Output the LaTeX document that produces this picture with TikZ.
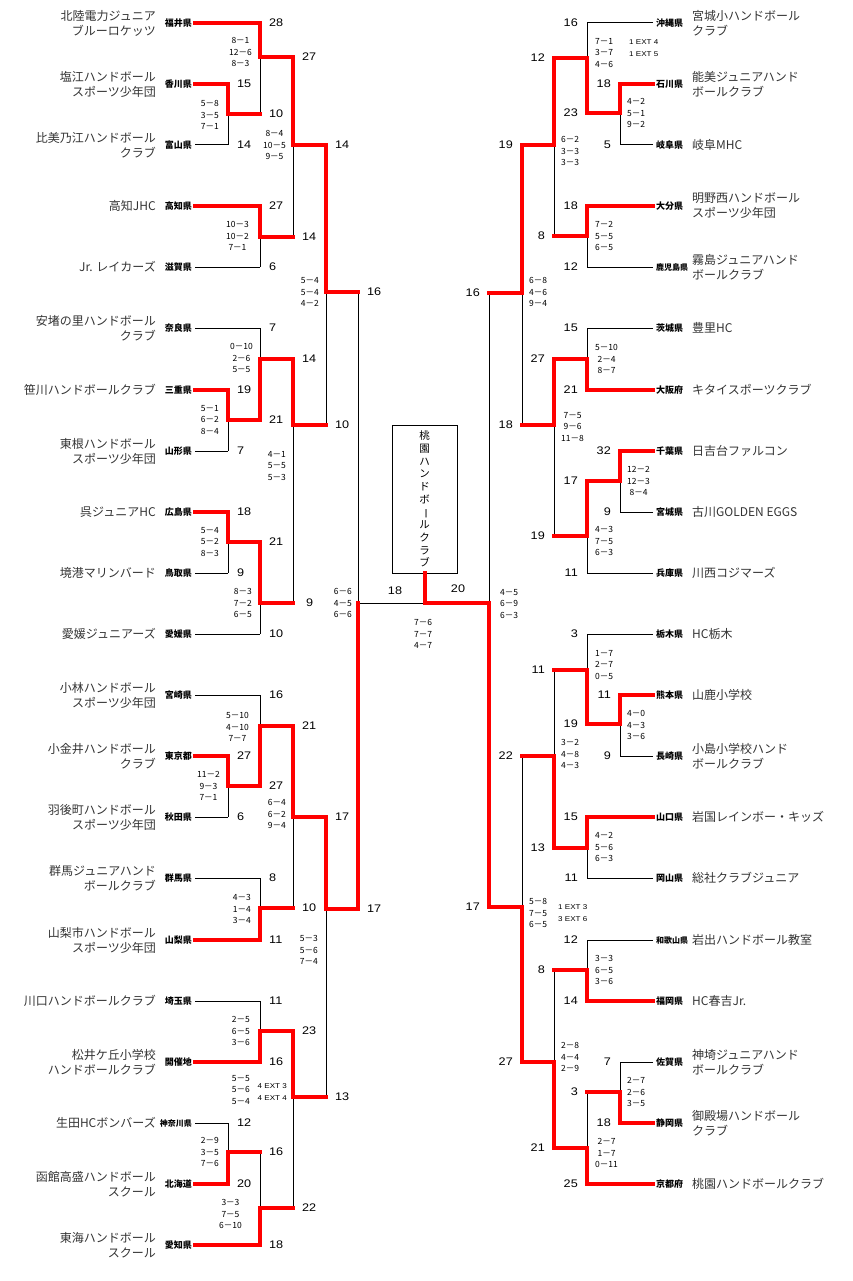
\documentclass[tikz,border=0pt]{standalone}
\usepackage{fontspec}
\setmainfont{Liberation Sans}
\newfontfamily\jp{Noto Sans CJK JP}
\newfontfamily\num[FakeStretch=1.15]{Liberation Sans}
\begin{document}
\begin{tikzpicture}[x=1pt, y=-1pt,
  lose/.style={draw=black, line width=1pt},
  win/.style={draw=red, line width=4pt, line cap=rect},
  pref/.style={font=\jp\bfseries\fontsize{9}{9}\selectfont, inner xsep=3pt, inner ysep=0pt},
  pref4/.style={pref, font=\jp\bfseries\fontsize{8}{8}\selectfont},
  team/.style={font=\jp\fontsize{12}{15}\selectfont, text=black!80, inner sep=0pt},
  sc/.style={font=\num\fontsize{11}{11}\selectfont, inner sep=0pt},
  gm/.style={font=\jp\fontsize{8.5}{11.2}\selectfont, align=center, inner sep=0pt},
  ext/.style={font=\num\fontsize{7}{11.5}\selectfont, align=left, inner sep=0pt}]
\useasboundingbox (0,0) rectangle (852,1281);

% columns
\coordinate (L1) at (228,0); \coordinate (L2) at (260,0); \coordinate (L3) at (293,0);
\coordinate (L4) at (326,0); \coordinate (L5) at (358,0);
\coordinate (R1) at (620,0); \coordinate (R2) at (587,0); \coordinate (R3) at (554,0);
\coordinate (R4) at (522,0); \coordinate (R5) at (489,0);

% left teams
\node[pref, anchor=east] (p0) at (195,23) {福井県};
\node[pref, anchor=east] (p1) at (195,84) {香川県};
\node[pref, anchor=east] (p2) at (195,145) {富山県};
\node[pref, anchor=east] (p3) at (195,206) {高知県};
\node[pref, anchor=east] (p4) at (195,267) {滋賀県};
\node[pref, anchor=east] (p5) at (195,328) {奈良県};
\node[pref, anchor=east] (p6) at (195,390) {三重県};
\node[pref, anchor=east] (p7) at (195,451) {山形県};
\node[pref, anchor=east] (p8) at (195,512) {広島県};
\node[pref, anchor=east] (p9) at (195,573) {鳥取県};
\node[pref, anchor=east] (p10) at (195,634) {愛媛県};
\node[pref, anchor=east] (p11) at (195,695) {宮崎県};
\node[pref, anchor=east] (p12) at (195,756) {東京都};
\node[pref, anchor=east] (p13) at (195,817) {秋田県};
\node[pref, anchor=east] (p14) at (195,878) {群馬県};
\node[pref, anchor=east] (p15) at (195,940) {山梨県};
\node[pref, anchor=east] (p16) at (195,1001) {埼玉県};
\node[pref, anchor=east] (p17) at (195,1062) {開催地};
\node[pref4, anchor=east] (p18) at (195,1123) {神奈川県};
\node[pref, anchor=east] (p19) at (195,1184) {北海道};
\node[pref, anchor=east] (p20) at (195,1245) {愛知県};

\node[team, anchor=east, align=right] (t0) at (156,23) {北陸電力ジュニア\\ブルーロケッツ};
\node[team, anchor=east, align=right] (t1) at (156,84) {塩江ハンドボール\\スポーツ少年団};
\node[team, anchor=east, align=right] (t2) at (156,145) {比美乃江ハンドボール\\クラブ};
\node[team, anchor=east, align=right] (t3) at (156,206) {高知JHC};
\node[team, anchor=east, align=right] (t4) at (156,267) {Jr. レイカーズ};
\node[team, anchor=east, align=right] (t5) at (156,328) {安堵の里ハンドボール\\クラブ};
\node[team, anchor=east, align=right] (t6) at (156,390) {笹川ハンドボールクラブ};
\node[team, anchor=east, align=right] (t7) at (156,451) {東根ハンドボール\\スポーツ少年団};
\node[team, anchor=east, align=right] (t8) at (156,512) {呉ジュニアHC};
\node[team, anchor=east, align=right] (t9) at (156,573) {境港マリンバード};
\node[team, anchor=east, align=right] (t10) at (156,634) {愛媛ジュニアーズ};
\node[team, anchor=east, align=right] (t11) at (156,695) {小林ハンドボール\\スポーツ少年団};
\node[team, anchor=east, align=right] (t12) at (156,756) {小金井ハンドボール\\クラブ};
\node[team, anchor=east, align=right] (t13) at (156,817) {羽後町ハンドボール\\スポーツ少年団};
\node[team, anchor=east, align=right] (t14) at (156,878) {群馬ジュニアハンド\\ボールクラブ};
\node[team, anchor=east, align=right] (t15) at (156,940) {山梨市ハンドボール\\スポーツ少年団};
\node[team, anchor=east, align=right] (t16) at (156,1001) {川口ハンドボールクラブ};
\node[team, anchor=east, align=right] (t17) at (156,1062) {松井ケ丘小学校\\ハンドボールクラブ};
\node[team, anchor=east, align=right] (t18) at (156,1123) {生田HCボンバーズ};
\node[team, anchor=east, align=right] (t19) at (156,1184) {函館高盛ハンドボール\\スクール};
\node[team, anchor=east, align=right] (t20) at (156,1245) {東海ハンドボール\\スクール};

% right teams
\node[pref, anchor=west] (q0) at (653,23) {沖縄県};
\node[pref, anchor=west] (q1) at (653,84) {石川県};
\node[pref, anchor=west] (q2) at (653,145) {岐阜県};
\node[pref, anchor=west] (q3) at (653,206) {大分県};
\node[pref4, anchor=west] (q4) at (653,267) {鹿児島県};
\node[pref, anchor=west] (q5) at (653,328) {茨城県};
\node[pref, anchor=west] (q6) at (653,390) {大阪府};
\node[pref, anchor=west] (q7) at (653,451) {千葉県};
\node[pref, anchor=west] (q8) at (653,512) {宮城県};
\node[pref, anchor=west] (q9) at (653,573) {兵庫県};
\node[pref, anchor=west] (q10) at (653,634) {栃木県};
\node[pref, anchor=west] (q11) at (653,695) {熊本県};
\node[pref, anchor=west] (q12) at (653,756) {長崎県};
\node[pref, anchor=west] (q13) at (653,817) {山口県};
\node[pref, anchor=west] (q14) at (653,878) {岡山県};
\node[pref4, anchor=west] (q15) at (653,940) {和歌山県};
\node[pref, anchor=west] (q16) at (653,1001) {福岡県};
\node[pref, anchor=west] (q17) at (653,1062) {佐賀県};
\node[pref, anchor=west] (q18) at (653,1123) {静岡県};
\node[pref, anchor=west] (q19) at (653,1184) {京都府};

\node[team, anchor=west, align=left] (u0) at (692,23) {宮城小ハンドボール\\クラブ};
\node[team, anchor=west, align=left] (u1) at (692,84) {能美ジュニアハンド\\ボールクラブ};
\node[team, anchor=west, align=left] (u2) at (692,145) {岐阜MHC};
\node[team, anchor=west, align=left] (u3) at (692,206) {明野西ハンドボール\\スポーツ少年団};
\node[team, anchor=west, align=left] (u4) at (692,267) {霧島ジュニアハンド\\ボールクラブ};
\node[team, anchor=west, align=left] (u5) at (692,328) {豊里HC};
\node[team, anchor=west, align=left] (u6) at (692,390) {キタイスポーツクラブ};
\node[team, anchor=west, align=left] (u7) at (692,451) {日吉台ファルコン};
\node[team, anchor=west, align=left] (u8) at (692,512) {古川GOLDEN EGGS};
\node[team, anchor=west, align=left] (u9) at (692,573) {川西コジマーズ};
\node[team, anchor=west, align=left] (u10) at (692,634) {HC栃木};
\node[team, anchor=west, align=left] (u11) at (692,695) {山鹿小学校};
\node[team, anchor=west, align=left] (u12) at (692,756) {小島小学校ハンド\\ボールクラブ};
\node[team, anchor=west, align=left] (u13) at (692,817) {岩国レインボー・キッズ};
\node[team, anchor=west, align=left] (u14) at (692,878) {総社クラブジュニア};
\node[team, anchor=west, align=left] (u15) at (692,940) {岩出ハンドボール教室};
\node[team, anchor=west, align=left] (u16) at (692,1001) {HC春吉Jr.};
\node[team, anchor=west, align=left] (u17) at (692,1062) {神埼ジュニアハンド\\ボールクラブ};
\node[team, anchor=west, align=left] (u18) at (692,1123) {御殿場ハンドボール\\クラブ};
\node[team, anchor=west, align=left] (u19) at (692,1184) {桃園ハンドボールクラブ};

% champion
\node[draw, line width=0.8pt, minimum width=65, minimum height=148, inner sep=0pt,
  font=\jp\fontsize{10.5}{12.7}\selectfont, align=center] (champ) at (424.5,499)
  {桃\\園\\ハ\\ン\\ド\\ボ\\\rotatebox[origin=c]{-90}{ー}\\ル\\ク\\ラ\\ブ};

% match points
\coordinate (a1) at (228,114); \coordinate (a2) at (228,420); \coordinate (a3) at (228,542);
\coordinate (a4) at (228,786); \coordinate (a5) at (228,1152);
\coordinate (a6) at (260,57); \coordinate (a7) at (260,237); \coordinate (a8) at (260,359);
\coordinate (a9) at (260,603); \coordinate (a10) at (260,726); \coordinate (a11) at (260,908);
\coordinate (a12) at (260,1031); \coordinate (a13) at (260,1208);
\coordinate (a14) at (293,145); \coordinate (a15) at (293,425); \coordinate (a16) at (293,817);
\coordinate (a17) at (293,1097);
\coordinate (a18) at (326,292); \coordinate (a19) at (326,909);
\coordinate (a20) at (358,603);
\coordinate (b1) at (620,113); \coordinate (b2) at (620,481); \coordinate (b3) at (620,724);
\coordinate (b4) at (620,1092);
\coordinate (b5) at (587,58); \coordinate (b6) at (587,236); \coordinate (b7) at (587,359);
\coordinate (b8) at (587,536); \coordinate (b9) at (587,670); \coordinate (b10) at (587,848);
\coordinate (b11) at (587,970); \coordinate (b12) at (587,1148);
\coordinate (b13) at (554,145); \coordinate (b14) at (554,425); \coordinate (b15) at (554,756);
\coordinate (b16) at (554,1062);
\coordinate (b17) at (522,293); \coordinate (b18) at (522,907);
\coordinate (b19) at (489,603);

% losing team lines
\draw[lose] (p2.east) -- (p2 -| L1);
\draw[lose] (p4.east) -- (p4 -| L2);
\draw[lose] (p5.east) -- (p5 -| L2);
\draw[lose] (p7.east) -- (p7 -| L1);
\draw[lose] (p9.east) -- (p9 -| L1);
\draw[lose] (p10.east) -- (p10 -| L2);
\draw[lose] (p11.east) -- (p11 -| L2);
\draw[lose] (p13.east) -- (p13 -| L1);
\draw[lose] (p14.east) -- (p14 -| L2);
\draw[lose] (p16.east) -- (p16 -| L2);
\draw[lose] (p18.east) -- (p18 -| L1);
\draw[lose] (q0.west) -- (q0 -| R2);
\draw[lose] (q2.west) -- (q2 -| R1);
\draw[lose] (q4.west) -- (q4 -| R2);
\draw[lose] (q5.west) -- (q5 -| R2);
\draw[lose] (q8.west) -- (q8 -| R1);
\draw[lose] (q9.west) -- (q9 -| R2);
\draw[lose] (q10.west) -- (q10 -| R2);
\draw[lose] (q12.west) -- (q12 -| R1);
\draw[lose] (q14.west) -- (q14 -| R2);
\draw[lose] (q15.west) -- (q15 -| R2);
\draw[lose] (q17.west) -- (q17 -| R1);

% brackets
\draw[lose] (p1 -| L1) -- (p2 -| L1);
\draw[lose] (p6 -| L1) -- (p7 -| L1);
\draw[lose] (p8 -| L1) -- (p9 -| L1);
\draw[lose] (p12 -| L1) -- (p13 -| L1);
\draw[lose] (p18 -| L1) -- (p19 -| L1);
\draw[lose] (p0 -| L2) -- (a1 -| L2);
\draw[lose] (p3 -| L2) -- (p4 -| L2);
\draw[lose] (p5 -| L2) -- (a2 -| L2);
\draw[lose] (a3 -| L2) -- (p10 -| L2);
\draw[lose] (p11 -| L2) -- (a4 -| L2);
\draw[lose] (p14 -| L2) -- (p15 -| L2);
\draw[lose] (p16 -| L2) -- (p17 -| L2);
\draw[lose] (a5 -| L2) -- (p20 -| L2);
\draw[lose] (a6 -| L3) -- (a7 -| L3);
\draw[lose] (a8 -| L3) -- (a9 -| L3);
\draw[lose] (a10 -| L3) -- (a11 -| L3);
\draw[lose] (a12 -| L3) -- (a13 -| L3);
\draw[lose] (a14 -| L4) -- (a15 -| L4);
\draw[lose] (a16 -| L4) -- (a17 -| L4);
\draw[lose] (a18 -| L5) -- (a19 -| L5);
\draw[lose] (q1 -| R1) -- (q2 -| R1);
\draw[lose] (q7 -| R1) -- (q8 -| R1);
\draw[lose] (q11 -| R1) -- (q12 -| R1);
\draw[lose] (q17 -| R1) -- (q18 -| R1);
\draw[lose] (q0 -| R2) -- (b1 -| R2);
\draw[lose] (q3 -| R2) -- (q4 -| R2);
\draw[lose] (q5 -| R2) -- (q6 -| R2);
\draw[lose] (b2 -| R2) -- (q9 -| R2);
\draw[lose] (q10 -| R2) -- (b3 -| R2);
\draw[lose] (q13 -| R2) -- (q14 -| R2);
\draw[lose] (q15 -| R2) -- (q16 -| R2);
\draw[lose] (b4 -| R2) -- (q19 -| R2);
\draw[lose] (b5 -| R3) -- (b6 -| R3);
\draw[lose] (b7 -| R3) -- (b8 -| R3);
\draw[lose] (b9 -| R3) -- (b10 -| R3);
\draw[lose] (b11 -| R3) -- (b12 -| R3);
\draw[lose] (b13 -| R4) -- (b14 -| R4);
\draw[lose] (b15 -| R4) -- (b16 -| R4);
\draw[lose] (b17 -| R5) -- (b18 -| R5);
\draw[lose] (a20) -- (b19);

% winners
\draw[win] (p1.east) -- (p1 -| L1) -- (a1) -- (a1 -| L2);
\draw[win] (p6.east) -- (p6 -| L1) -- (a2) -- (a2 -| L2);
\draw[win] (p8.east) -- (p8 -| L1) -- (a3) -- (a3 -| L2);
\draw[win] (p12.east) -- (p12 -| L1) -- (a4) -- (a4 -| L2);
\draw[win] (p19.east) -- (p19 -| L1) -- (a5) -- (a5 -| L2);
\draw[win] (p0.east) -- (p0 -| L2) -- (a6) -- (a6 -| L3);
\draw[win] (p3.east) -- (p3 -| L2) -- (a7) -- (a7 -| L3);
\draw[win] (a2 -| L2) -- (a8) -- (a8 -| L3);
\draw[win] (a3 -| L2) -- (a9) -- (a9 -| L3);
\draw[win] (a4 -| L2) -- (a10) -- (a10 -| L3);
\draw[win] (p15.east) -- (p15 -| L2) -- (a11) -- (a11 -| L3);
\draw[win] (p17.east) -- (p17 -| L2) -- (a12) -- (a12 -| L3);
\draw[win] (p20.east) -- (p20 -| L2) -- (a13) -- (a13 -| L3);
\draw[win] (a6 -| L3) -- (a14) -- (a14 -| L4);
\draw[win] (a8 -| L3) -- (a15) -- (a15 -| L4);
\draw[win] (a10 -| L3) -- (a16) -- (a16 -| L4);
\draw[win] (a12 -| L3) -- (a17) -- (a17 -| L4);
\draw[win] (a14 -| L4) -- (a18) -- (a18 -| L5);
\draw[win] (a16 -| L4) -- (a19) -- (a19 -| L5);
\draw[win] (a19 -| L5) -- (a20);
\draw[win] (q1.west) -- (q1 -| R1) -- (b1) -- (b1 -| R2);
\draw[win] (q7.west) -- (q7 -| R1) -- (b2) -- (b2 -| R2);
\draw[win] (q11.west) -- (q11 -| R1) -- (b3) -- (b3 -| R2);
\draw[win] (q18.west) -- (q18 -| R1) -- (b4) -- (b4 -| R2);
\draw[win] (b1 -| R2) -- (b5) -- (b5 -| R3);
\draw[win] (q3.west) -- (q3 -| R2) -- (b6) -- (b6 -| R3);
\draw[win] (q6.west) -- (q6 -| R2) -- (b7) -- (b7 -| R3);
\draw[win] (b2 -| R2) -- (b8) -- (b8 -| R3);
\draw[win] (b3 -| R2) -- (b9) -- (b9 -| R3);
\draw[win] (q13.west) -- (q13 -| R2) -- (b10) -- (b10 -| R3);
\draw[win] (q16.west) -- (q16 -| R2) -- (b11) -- (b11 -| R3);
\draw[win] (q19.west) -- (q19 -| R2) -- (b12) -- (b12 -| R3);
\draw[win] (b5 -| R3) -- (b13) -- (b13 -| R4);
\draw[win] (b7 -| R3) -- (b14) -- (b14 -| R4);
\draw[win] (b10 -| R3) -- (b15) -- (b15 -| R4);
\draw[win] (b12 -| R3) -- (b16) -- (b16 -| R4);
\draw[win] (b13 -| R4) -- (b17) -- (b17 -| R5);
\draw[win] (b16 -| R4) -- (b18) -- (b18 -| R5);
\draw[win] (b18 -| R5) -- (b19) -- (champ.south |- b19) -- (champ.south);

% scores left
\node[sc, anchor=west] (a1t) at (237,84) {15};  \node[sc, anchor=west] (a1b) at (237,145) {14};
\node[sc, anchor=west] (a2t) at (237,390) {19}; \node[sc, anchor=west] (a2b) at (237,451) {7};
\node[sc, anchor=west] (a3t) at (237,512) {18}; \node[sc, anchor=west] (a3b) at (237,573) {9};
\node[sc, anchor=west] (a4t) at (237,756) {27}; \node[sc, anchor=west] (a4b) at (237,817) {6};
\node[sc, anchor=west] (a5t) at (237,1123) {12}; \node[sc, anchor=west] (a5b) at (237,1184) {20};
\node[sc, anchor=west] (a6t) at (269,23) {28};  \node[sc, anchor=west] (a6b) at (269,114) {10};
\node[sc, anchor=west] (a7t) at (269,206) {27}; \node[sc, anchor=west] (a7b) at (269,267) {6};
\node[sc, anchor=west] (a8t) at (269,328) {7};  \node[sc, anchor=west] (a8b) at (269,420) {21};
\node[sc, anchor=west] (a9t) at (269,542) {21}; \node[sc, anchor=west] (a9b) at (269,634) {10};
\node[sc, anchor=west] (a10t) at (269,695) {16}; \node[sc, anchor=west] (a10b) at (269,786) {27};
\node[sc, anchor=west] (a11t) at (269,878) {8}; \node[sc, anchor=west] (a11b) at (269,940) {11};
\node[sc, anchor=west] (a12t) at (269,1001) {11}; \node[sc, anchor=west] (a12b) at (269,1062) {16};
\node[sc, anchor=west] (a13t) at (269,1152) {16}; \node[sc, anchor=west] (a13b) at (269,1245) {18};
\node[sc, anchor=west] (a14t) at (302,57) {27}; \node[sc, anchor=west] (a14b) at (302,237) {14};
\node[sc, anchor=west] (a15t) at (302,359) {14}; \node[sc, anchor=west] (a15b) at (306,603) {9};
\node[sc, anchor=west] (a16t) at (302,726) {21}; \node[sc, anchor=west] (a16b) at (302,908) {10};
\node[sc, anchor=west] (a17t) at (302,1031) {23}; \node[sc, anchor=west] (a17b) at (302,1208) {22};
\node[sc, anchor=west] (a18t) at (335,145) {14}; \node[sc, anchor=west] (a18b) at (335,425) {10};
\node[sc, anchor=west] (a19t) at (335,817) {17}; \node[sc, anchor=west] (a19b) at (335,1097) {13};
\node[sc, anchor=west] (a20t) at (367,292) {16}; \node[sc, anchor=west] (a20b) at (367,909) {17};

% scores right
\node[sc, anchor=east] (b1t) at (611,84) {18};  \node[sc, anchor=east] (b1b) at (611,145) {5};
\node[sc, anchor=east] (b2t) at (611,451) {32}; \node[sc, anchor=east] (b2b) at (611,512) {9};
\node[sc, anchor=east] (b3t) at (611,695) {11}; \node[sc, anchor=east] (b3b) at (611,756) {9};
\node[sc, anchor=east] (b4t) at (611,1062) {7}; \node[sc, anchor=east] (b4b) at (611,1123) {18};
\node[sc, anchor=east] (b5t) at (578,23) {16};  \node[sc, anchor=east] (b5b) at (578,113) {23};
\node[sc, anchor=east] (b6t) at (578,206) {18}; \node[sc, anchor=east] (b6b) at (578,267) {12};
\node[sc, anchor=east] (b7t) at (578,328) {15}; \node[sc, anchor=east] (b7b) at (578,390) {21};
\node[sc, anchor=east] (b8t) at (578,481) {17}; \node[sc, anchor=east] (b8b) at (578,573) {11};
\node[sc, anchor=east] (b9t) at (578,634) {3};  \node[sc, anchor=east] (b9b) at (578,724) {19};
\node[sc, anchor=east] (b10t) at (578,817) {15}; \node[sc, anchor=east] (b10b) at (578,878) {11};
\node[sc, anchor=east] (b11t) at (578,940) {12}; \node[sc, anchor=east] (b11b) at (578,1001) {14};
\node[sc, anchor=east] (b12t) at (578,1092) {3}; \node[sc, anchor=east] (b12b) at (578,1184) {25};
\node[sc, anchor=east] (b13t) at (545,58) {12}; \node[sc, anchor=east] (b13b) at (545,236) {8};
\node[sc, anchor=east] (b14t) at (545,359) {27}; \node[sc, anchor=east] (b14b) at (545,536) {19};
\node[sc, anchor=east] (b15t) at (545,670) {11}; \node[sc, anchor=east] (b15b) at (545,848) {13};
\node[sc, anchor=east] (b16t) at (545,970) {8}; \node[sc, anchor=east] (b16b) at (545,1148) {21};
\node[sc, anchor=east] (b17t) at (513,145) {19}; \node[sc, anchor=east] (b17b) at (513,425) {18};
\node[sc, anchor=east] (b18t) at (513,756) {22}; \node[sc, anchor=east] (b18b) at (513,1062) {27};
\node[sc, anchor=east] (b19t) at (480,293) {16}; \node[sc, anchor=east] (b19b) at (480,907) {17};

% final
\node[sc] (fl) at (395,591) {18};
\node[sc] (fr) at (458,589) {20};
\node[gm] (fg) at (423,634) {7－6\\7－7\\4－7};

% games left
\node[gm, anchor=east] (a1g) at (219,115) {5－8\\3－5\\7－1};
\node[gm, anchor=east] (a2g) at (219,420) {5－1\\6－2\\8－4};
\node[gm, anchor=east] (a3g) at (219,542) {5－4\\5－2\\8－3};
\node[gm, anchor=east] (a4g) at (220,786) {11－2\\9－3\\7－1};
\node[gm, anchor=east] (a5g) at (219,1152) {2－9\\3－5\\7－6};
\node[gm, anchor=east] (a6g) at (252,52) {8－1\\12－6\\8－3};
\node[gm, anchor=east] (a7g) at (249,236) {10－3\\10－2\\7－1};
\node[gm, anchor=east] (a8g) at (253,358) {0－10\\2－6\\5－5};
\node[gm, anchor=east] (a9g) at (252,603) {8－3\\7－2\\6－5};
\node[gm, anchor=east] (a10g) at (249,727) {5－10\\4－10\\7－7};
\node[gm, anchor=east] (a11g) at (251,909) {4－3\\1－4\\3－4};
\node[gm, anchor=east] (a12g) at (250,1031) {2－5\\6－5\\3－6};
\node[gm, anchor=east] (a13g) at (242,1214) {3－3\\7－5\\6－10};
\node[gm, anchor=east] (a14g) at (286,145) {8－4\\10－5\\9－5};
\node[gm, anchor=east] (a15g) at (286,466) {4－1\\5－5\\5－3};
\node[gm, anchor=east] (a16g) at (286,814) {6－4\\6－2\\9－4};
\node[gm, anchor=east] (a17g) at (250,1090) {5－5\\5－6\\5－4};
\node[ext, anchor=east] (a17e) at (287,1092) {4 EXT 3\\4 EXT 4};
\node[gm, anchor=east] (a18g) at (319,292) {5－4\\5－4\\4－2};
\node[gm, anchor=east] (a19g) at (318,950) {5－3\\5－6\\7－4};
\node[gm, anchor=east] (a20g) at (352,603) {6－6\\4－5\\6－6};

% games right
\node[gm, anchor=west] (b1g) at (627,113) {4－2\\5－1\\9－2};
\node[gm, anchor=west] (b2g) at (627,481) {12－2\\12－3\\8－4};
\node[gm, anchor=west] (b3g) at (627,725) {4－0\\4－3\\3－6};
\node[gm, anchor=west] (b4g) at (627,1092) {2－7\\2－6\\3－5};
\node[gm, anchor=west] (b5g) at (595,53) {7－1\\3－7\\4－6};
\node[ext, anchor=west] (b5e) at (629,48) {1 EXT 4\\1 EXT 5};
\node[gm, anchor=west] (b6g) at (595,236) {7－2\\5－5\\6－5};
\node[gm, anchor=west] (b7g) at (595,359) {5－10\\2－4\\8－7};
\node[gm, anchor=west] (b8g) at (595,541) {4－3\\7－5\\6－3};
\node[gm, anchor=west] (b9g) at (595,665) {1－7\\2－7\\0－5};
\node[gm, anchor=west] (b10g) at (595,847) {4－2\\5－6\\6－3};
\node[gm, anchor=west] (b11g) at (595,970) {3－3\\6－5\\3－6};
\node[gm, anchor=west] (b12g) at (595,1153) {2－7\\1－7\\0－11};
\node[gm, anchor=west] (b13g) at (561,151) {6－2\\3－3\\3－3};
\node[gm, anchor=west] (b14g) at (561,427) {7－5\\9－6\\11－8};
\node[gm, anchor=west] (b15g) at (561,754) {3－2\\4－8\\4－3};
\node[gm, anchor=west] (b16g) at (561,1057) {2－8\\4－4\\2－9};
\node[gm, anchor=west] (b17g) at (529,292) {6－8\\4－6\\9－4};
\node[gm, anchor=west] (b18g) at (529,913) {5－8\\7－5\\6－5};
\node[ext, anchor=west] (b18e) at (558,913) {1 EXT 3\\3 EXT 6};
\node[gm, anchor=west] (b19g) at (500,604) {4－5\\6－9\\6－3};
\end{tikzpicture}
\end{document}
